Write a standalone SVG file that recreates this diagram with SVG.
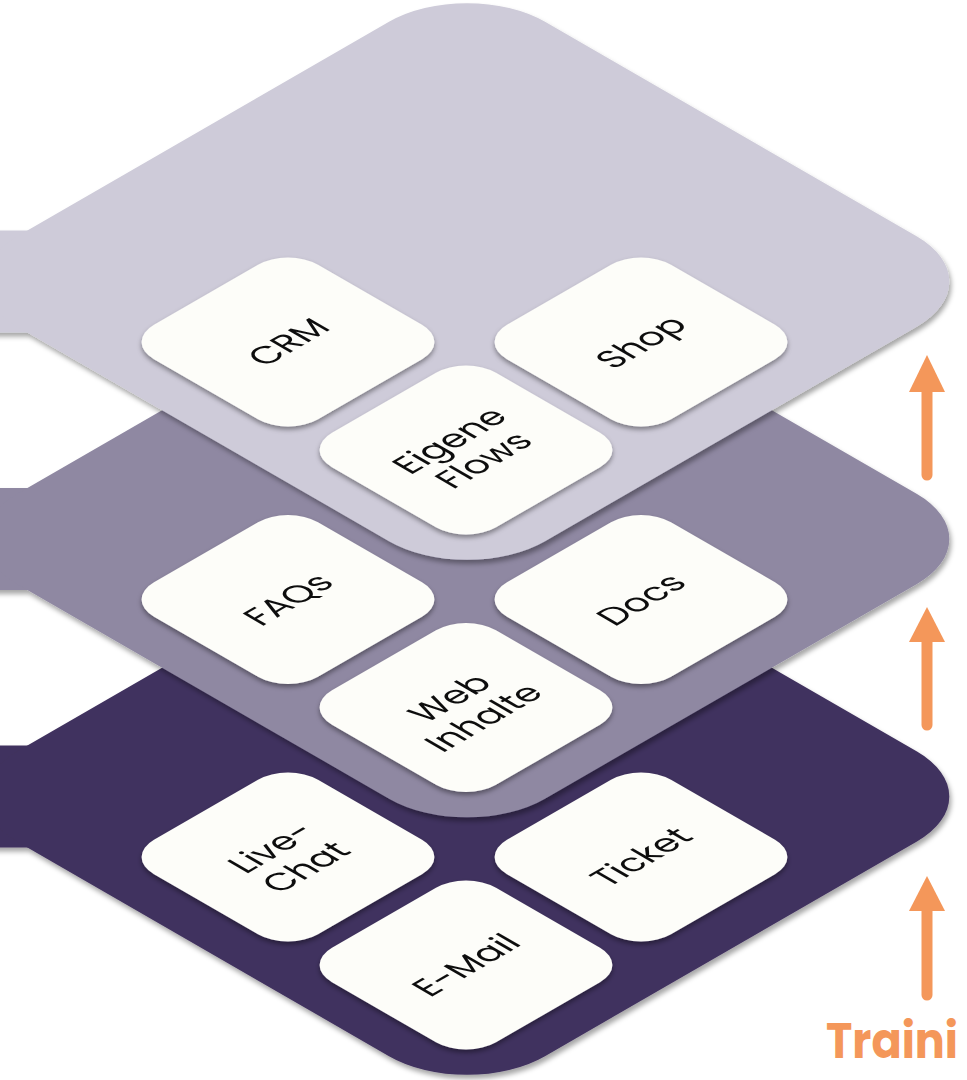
<svg xmlns="http://www.w3.org/2000/svg" width="967" height="1080" viewBox="0 0 967 1080">
  <defs>
    <filter id="layerShadow" x="-10%" y="-10%" width="120%" height="125%">
      <feDropShadow dx="2" dy="4" stdDeviation="2.5" flood-color="#000" flood-opacity="0.35"/>
    </filter>
    <filter id="tileShadow" x="-15%" y="-15%" width="130%" height="140%">
      <feDropShadow dx="0" dy="3" stdDeviation="2.5" flood-color="#000" flood-opacity="0.4"/>
    </filter>
  </defs>
  <style>
    .l1 { fill: #41325E; }
    .l2 { fill: #8F88A2; }
    .l3 { fill: #CECBD9; }
    .tileShape { fill: #FDFDF9; }
    .lbl { font-family: "Poppins", "Lato", "Open Sans", sans-serif; font-size: 30px; fill: #111; text-anchor: middle; }
    .arrow { fill: #F4975A; }
    .shaft { stroke: #F4975A; stroke-width: 11; stroke-linecap: round; fill: none; }
    .title { font-family: "Poppins", "Lato", "Open Sans", sans-serif; font-weight: 700; font-size: 50px; fill: #F4975A; }
  </style>

  <!-- Bottom layer -->
  <g id="layer-bottom" filter="url(#layerShadow)">
    <rect class="l1" x="-10" y="745.5" width="70" height="102"/>
    <rect class="l1" x="-264" y="-264" width="528" height="528" rx="78" transform="matrix(1,-0.577,1,0.577,467,796.5)"/>
  </g>
  <g id="tile-livechat" filter="url(#tileShadow)" transform="translate(288,857)">
    <g transform="matrix(1,-0.577,1,0.577,0,0)">
      <rect class="tileShape" x="-82" y="-82" width="164" height="164" rx="30"/>
      <text class="lbl" x="0" y="-6">Live-</text>
      <text class="lbl" x="0" y="28">Chat</text>
    </g>
  </g>
  <g id="tile-ticket" filter="url(#tileShadow)" transform="translate(641,857)">
    <g transform="matrix(1,-0.577,1,0.577,0,0)">
      <rect class="tileShape" x="-82" y="-82" width="164" height="164" rx="30"/>
      <text class="lbl" x="0" y="10.5">Ticket</text>
    </g>
  </g>
  <g id="tile-email" filter="url(#tileShadow)" transform="translate(466,965)">
    <g transform="matrix(1,-0.577,1,0.577,0,0)">
      <rect class="tileShape" x="-82" y="-82" width="164" height="164" rx="30"/>
      <text class="lbl" x="0" y="10.5">E-Mail</text>
    </g>
  </g>

  <!-- Middle layer -->
  <g id="layer-middle" filter="url(#layerShadow)">
    <rect class="l2" x="-10" y="488" width="70" height="102"/>
    <rect class="l2" x="-264" y="-264" width="528" height="528" rx="78" transform="matrix(1,-0.577,1,0.577,467,539)"/>
  </g>
  <g id="tile-faqs" filter="url(#tileShadow)" transform="translate(288,599.5)">
    <g transform="matrix(1,-0.577,1,0.577,0,0)">
      <rect class="tileShape" x="-82" y="-82" width="164" height="164" rx="30"/>
      <text class="lbl" x="0" y="10.5">FAQs</text>
    </g>
  </g>
  <g id="tile-docs" filter="url(#tileShadow)" transform="translate(641,599.5)">
    <g transform="matrix(1,-0.577,1,0.577,0,0)">
      <rect class="tileShape" x="-82" y="-82" width="164" height="164" rx="30"/>
      <text class="lbl" x="0" y="10.5">Docs</text>
    </g>
  </g>
  <g id="tile-web" filter="url(#tileShadow)" transform="translate(466,707.5)">
    <g transform="matrix(1,-0.577,1,0.577,0,0)">
      <rect class="tileShape" x="-82" y="-82" width="164" height="164" rx="30"/>
      <text class="lbl" x="0" y="-6">Web</text>
      <text class="lbl" x="0" y="28">Inhalte</text>
    </g>
  </g>

  <!-- Top layer -->
  <g id="layer-top" filter="url(#layerShadow)">
    <rect class="l3" x="-10" y="230.5" width="70" height="102"/>
    <rect class="l3" x="-264" y="-264" width="528" height="528" rx="78" transform="matrix(1,-0.577,1,0.577,467,281.5)"/>
  </g>
  <g id="tile-crm" filter="url(#tileShadow)" transform="translate(288,342)">
    <g transform="matrix(1,-0.577,1,0.577,0,0)">
      <rect class="tileShape" x="-82" y="-82" width="164" height="164" rx="30"/>
      <text class="lbl" x="0" y="10.5">CRM</text>
    </g>
  </g>
  <g id="tile-shop" filter="url(#tileShadow)" transform="translate(641,342)">
    <g transform="matrix(1,-0.577,1,0.577,0,0)">
      <rect class="tileShape" x="-82" y="-82" width="164" height="164" rx="30"/>
      <text class="lbl" x="0" y="10.5">Shop</text>
    </g>
  </g>
  <g id="tile-flows" filter="url(#tileShadow)" transform="translate(466,450)">
    <g transform="matrix(1,-0.577,1,0.577,0,0)">
      <rect class="tileShape" x="-82" y="-82" width="164" height="164" rx="30"/>
      <text class="lbl" x="0" y="-6">Eigene</text>
      <text class="lbl" x="0" y="28">Flows</text>
    </g>
  </g>

  <!-- Arrows -->
  <g id="connectors">
    <g id="arrow-1">
      <line class="shaft" x1="927" y1="388" x2="927" y2="475"/>
      <polygon class="arrow" points="927,355 945,392 909,392"/>
    </g>
    <g id="arrow-2">
      <line class="shaft" x1="927" y1="638" x2="927" y2="725"/>
      <polygon class="arrow" points="927,607 945,642 909,642"/>
    </g>
    <g id="arrow-3">
      <line class="shaft" x1="927" y1="906" x2="927" y2="995"/>
      <polygon class="arrow" points="927,876 945,911 909,911"/>
    </g>
  </g>

  <text id="title" class="title" x="826" y="1058" textLength="132" lengthAdjust="spacingAndGlyphs">Traini</text>
</svg>
